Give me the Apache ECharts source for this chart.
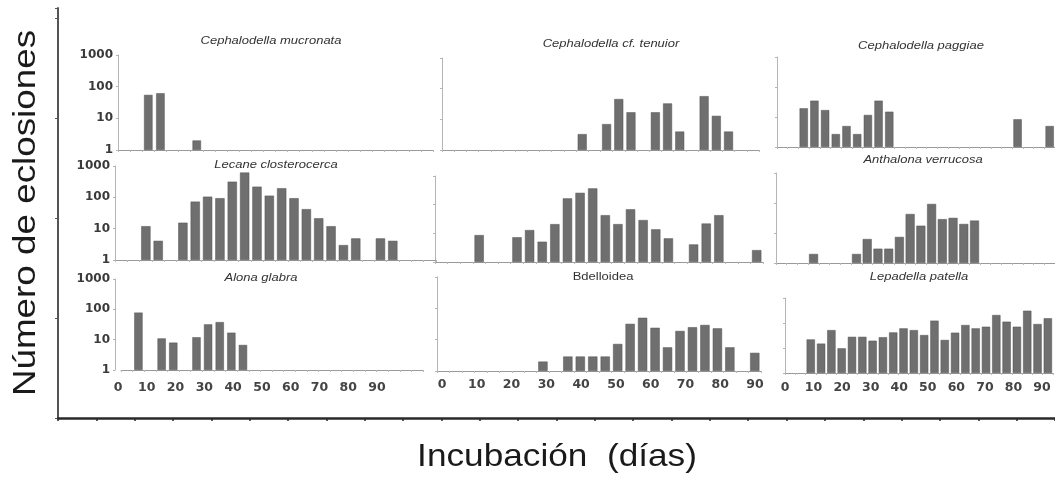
<!DOCTYPE html>
<html><head><meta charset="utf-8">
<script src="https://cdn.jsdelivr.net/npm/echarts@6/dist/echarts.min.js"></script>
<style>html,body{margin:0;padding:0;background:#fff}#c{width:1055px;height:478px}</style>
</head><body><div id="c"></div>
<script>
// sampling days (categories, one slot per sample)
const sampleDays = [2,5,9,12,16,19,23,26,30,33,37,40,44,47,51,54,58,61,65,68,72,75,79,82,86,89];
const dayTicks = [0,10,20,30,40,50,60,70,80,90];
const yTicks = [1,10,100,1000];
const panelTitles = ['Cephalodella mucronata','Cephalodella cf. tenuior','Cephalodella paggiae',
  'Lecane closterocerca','','Anthalona verrucosa','Alona glabra','Bdelloidea','Lepadella patella'];
const yTitle = 'Número de eclosiones';
const xTitle = 'Incubación  (días)';

// counts (number of hatchings) per sample, log scale
const mucronata  = [null,null,55,62,null,null,2,null,null,null,null,null,null,null,null,null,null,null,null,null,null,null,null,null,null,null];
const tenuior    = [null,null,null,null,null,null,null,null,null,null,null,3.3,null,7,46,17,null,17,33,4,null,57,13,4,null,null];
const paggiae    = [null,null,19.5,35,17,2.7,5,2.7,11.7,35,15,null,null,null,null,null,null,null,null,null,null,null,8.4,null,null,5];
const lecane     = [null,null,12,4.1,null,15.5,73,105,94,316,617,219,113,195,94,42,21.5,12,3,4.9,null,4.9,4.1,null,null,null];
const panel5     = [null,null,null,8.7,null,null,7.3,13,5.1,21,166,259,370,43,21,69,29,13.8,6.7,null,4.1,22,43,null,null,2.6];
const anthalona  = [null,null,null,2,null,null,null,2,6.3,3,3,7.4,43,17.5,93,29,32,20,26,null,null,null,null,null,null,null];
const alona      = [null,78,null,11,8,null,12,32,38,17,6.7,null,null,null,null,null,null,null,null,null,null,null,null,null,null,null];
const bdelloidea = [null,null,null,null,null,null,null,null,2,null,2.9,2.9,2.9,2.9,7.3,32,50,24,5.7,19,25,29.5,23,5.7,null,3.8];
const lepadella  = [null,null,22,15,52,9.7,28,28,19.6,27,42,61,52,33,124,21,41,83,61,71,209,113,71,310,91,155];

const seriesData = [mucronata,tenuior,paggiae,lecane,panel5,anthalona,alona,bdelloidea,lepadella];

// layout (pixels)
const layout = [
  {left:118, top:55,  width:315, height:95, bw:8.5, labels:true,  tx:271, ty:41},
  {left:442, top:58,  width:317, height:92, bw:9,   labels:false, tx:611, ty:44},
  {left:777, top:57,  width:278, height:90, bw:8.3, labels:false, tx:921, ty:46},
  {left:115, top:166, width:321, height:94, bw:9.3, labels:true,  tx:276, ty:165},
  {left:435, top:176, width:328, height:86, bw:9.3, labels:false, tx:600, ty:165},
  {left:776, top:173, width:286, height:90, bw:9,   labels:false, tx:923, ty:160},
  {left:121, top:279, width:302, height:91, bw:8.3, labels:true,  tx:261, ty:278, off:6},
  {left:437, top:277, width:324, height:94, bw:9.3, labels:false, tx:603, ty:277, upright:true},
  {left:785, top:298, width:268, height:75, bw:8.3, labels:false, tx:919, ty:277}
];
const labelRows = [
  {left:118, top:376, width:259},
  {left:442, top:373, width:313},
  {left:785, top:376, width:257}
];

const grids=[], xAxes=[], yAxes=[], series=[], graphics=[];

// outer frame
grids.push({left:58, top:8, width:997, height:410});
xAxes.push({gridIndex:0, type:'value', min:0, max:26, interval:1,
  axisLine:{show:true, onZero:false, lineStyle:{color:'#2a2a2a', width:2.5}},
  axisTick:{show:true, length:3, lineStyle:{color:'#2a2a2a', width:1.5}},
  axisLabel:{show:false}, splitLine:{show:false}});
yAxes.push({gridIndex:0, type:'value', min:0, max:4.1, interval:1,
  axisLine:{show:true, onZero:false, lineStyle:{color:'#555', width:2}},
  axisTick:{show:true, length:3, lineStyle:{color:'#555'}},
  axisLabel:{show:false}, splitLine:{show:false}});

layout.forEach((L,i)=>{
  const g = grids.length;
  grids.push({left:L.left, top:L.top, width:L.width, height:L.height});
  xAxes.push({gridIndex:g, type:'category', data:sampleDays, boundaryGap:true,
    axisLine:{show:true, onZero:false, lineStyle:{color:'#9a9a9a', width:1}},
    axisTick:{show:true, length:2, interval:0, lineStyle:{color:'#b8b8b8'}},
    axisLabel:{show:false}, splitLine:{show:false}});
  yAxes.push({gridIndex:g, type:'log', logBase:10, min:yTicks[0], max:yTicks[yTicks.length-1], offset:L.off||0,
    axisLine:{show:true, lineStyle:{color:'#b5b5b5', width:1}},
    axisTick:{show:true, length:2, lineStyle:{color:'#b5b5b5'}},
    splitLine:{show:false},
    axisLabel:{show:L.labels, margin:5, fontFamily:'DejaVu Sans', fontWeight:'bold', fontSize:12, color:'#3a3a3a',
      formatter:v=>String(Math.round(v))}});
  series.push({type:'bar', xAxisIndex:g, yAxisIndex:g, data:seriesData[i], barWidth:L.bw, silent:true,
    itemStyle:{color:'#6f6f6f', borderColor:'#555', borderWidth:0.5}});
  if (panelTitles[i]) {
    graphics.push({type:'text', x:L.tx, y:L.ty, scaleX:1.3, silent:true,
      style:{text:panelTitles[i], fill:'#333', align:'center', verticalAlign:'middle',
        font:(L.upright?'':'italic ')+'10px "Liberation Sans", Arial, sans-serif'}});
  }
});

labelRows.forEach(L=>{
  const g = grids.length;
  grids.push({left:L.left, top:L.top, width:L.width, height:1});
  xAxes.push({gridIndex:g, type:'value', min:dayTicks[0], max:dayTicks[dayTicks.length-1], interval:dayTicks[1]-dayTicks[0],
    axisLine:{show:false}, axisTick:{show:false}, splitLine:{show:false},
    axisLabel:{show:true, margin:4, fontFamily:'DejaVu Sans', fontWeight:'bold', fontSize:12.5, color:'#444'}});
  yAxes.push({gridIndex:g, type:'value', show:false});
});

graphics.push({type:'text', x:26, y:213, rotation:Math.PI/2, scaleX:1.15, silent:true,
  style:{text:yTitle, fill:'#1a1a1a', align:'center', verticalAlign:'middle', font:'32px "Liberation Sans", Arial, sans-serif'}});
graphics.push({type:'text', x:557, y:457, scaleX:1.1, silent:true,
  style:{text:xTitle, fill:'#1a1a1a', align:'center', verticalAlign:'middle', font:'32px "Liberation Sans", Arial, sans-serif'}});

const chart = echarts.init(document.getElementById('c'));
chart.setOption({
  animation:false,
  backgroundColor:'#fff',
  grid:grids, xAxis:xAxes, yAxis:yAxes, series:series, graphic:graphics
});
</script></body></html>
